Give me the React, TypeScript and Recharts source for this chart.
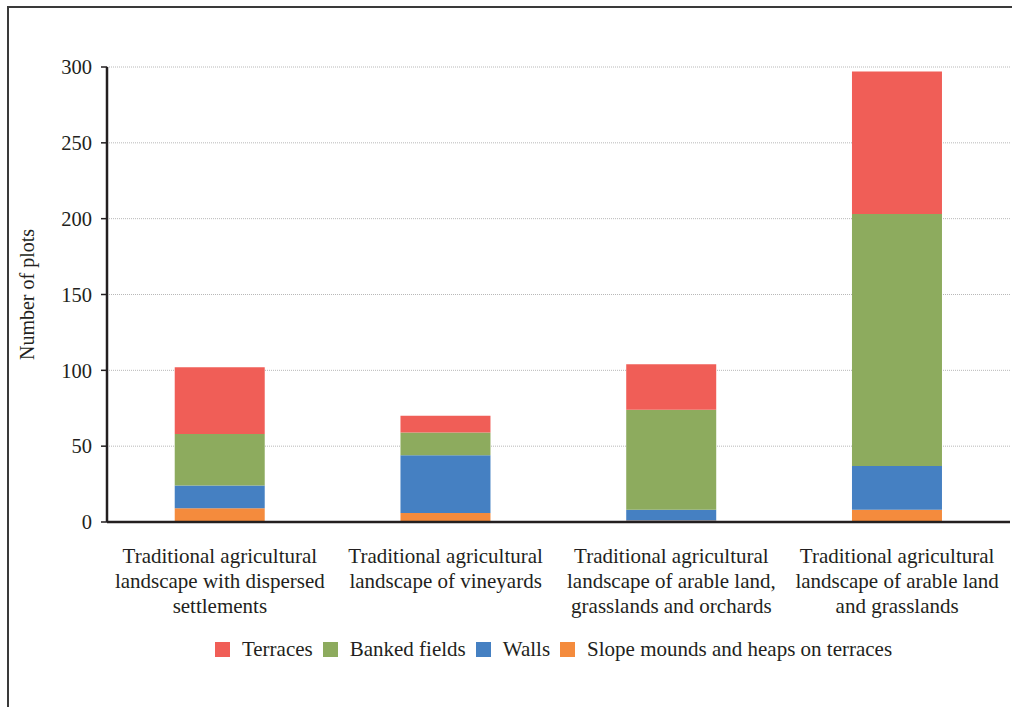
import { BarChart, Bar, XAxis, YAxis, CartesianGrid, Legend } from "recharts";

const categoryLines = [
  ["Traditional agricultural", "landscape with dispersed", "settlements"],
  ["Traditional agricultural", "landscape of vineyards"],
  ["Traditional agricultural", "landscape of arable land,", "grasslands and orchards"],
  ["Traditional agricultural", "landscape of arable land", "and grasslands"],
];
const slopeMounds = [9, 6, 1, 8];
const walls = [15, 38, 7, 29];
const bankedFields = [34, 15, 66, 166];
const terraces = [44, 11, 30, 94];
const yTicks = [0, 50, 100, 150, 200, 250, 300];

// stacking order bottom -> top
const series = [
  { key: "slope", name: "Slope mounds and heaps on terraces", color: "#F48B3D" },
  { key: "walls", name: "Walls", color: "#4580C2" },
  { key: "banked", name: "Banked fields", color: "#8DAB5E" },
  { key: "terraces", name: "Terraces", color: "#F05E57" },
];

const data = categoryLines.map((lines, i) => ({
  name: lines.join(" "),
  slope: slopeMounds[i],
  walls: walls[i],
  banked: bankedFields[i],
  terraces: terraces[i],
}));

const FONT = "'Liberation Serif', 'DejaVu Serif', serif";
const TEXT = "#231f20";

function CategoryTick({ x, y, index }: any) {
  const lines = categoryLines[index] || [];
  return (
    <text x={x} y={y} textAnchor="middle" fontFamily={FONT} fontSize={21} fill={TEXT}>
      {lines.map((l, i) => (
        <tspan key={i} x={x} dy={i === 0 ? 33 : 25}>
          {l}
        </tspan>
      ))}
    </text>
  );
}

function LegendContent() {
  const items = [...series].reverse();
  return (
    <div
      style={{
        display: "flex",
        justifyContent: "center",
        alignItems: "center",
        height: 30,
        fontFamily: FONT,
        fontSize: 21,
        color: TEXT,
      }}
    >
      {items.map((s) => (
        <div key={s.key} style={{ display: "flex", alignItems: "center", marginRight: 10 }}>
          <span style={{ width: 15, height: 15, background: s.color, marginRight: 12 }} />
          <span>{s.name}</span>
        </div>
      ))}
    </div>
  );
}

export default function App() {
  return (
    <div style={{ position: "absolute", left: 0, top: 0, width: 1012, height: 707, background: "#fff" }}>
      <div
        style={{
          position: "absolute",
          left: 7,
          top: 6,
          width: 1005,
          height: 701,
          boxSizing: "border-box",
          borderLeft: "2px solid #3a3a3a",
          borderTop: "2px solid #3a3a3a",
        }}
      />
      <div style={{ position: "absolute", left: 0, top: 0 }}>
        <BarChart
          width={1012}
          height={707}
          data={data}
          margin={{ top: 67, right: 2, left: 0, bottom: 55 }}
          barCategoryGap="30%"
        >
          <CartesianGrid
            horizontal
            vertical={false}
            stroke="#b8b8b8"
            strokeDasharray="1 1"
            horizontalValues={[50, 100, 150, 200, 250, 300]}
          />
          <XAxis
            dataKey="name"
            height={100}
            tickLine={false}
            axisLine={{ stroke: TEXT, strokeWidth: 2.5 }}
            tick={<CategoryTick />}
            interval={0}
          />
          <YAxis
            width={107}
            domain={[0, 300]}
            ticks={yTicks}
            tickSize={6}
            tickMargin={9}
            axisLine={{ stroke: TEXT, strokeWidth: 2.5 }}
            tickLine={{ stroke: TEXT, strokeWidth: 1.5 }}
            tick={{ fontFamily: FONT, fontSize: 20.5, fill: TEXT }}
            label={{
              value: "Number of plots",
              angle: -90,
              position: "insideLeft",
              offset: 0,
              dx: 27,
              style: { textAnchor: "middle", fontFamily: FONT, fontSize: 20, fill: TEXT },
            }}
          />
          <Legend
            verticalAlign="bottom"
            content={<LegendContent />}
            wrapperStyle={{ top: 634, left: 107, width: 903 }}
          />
          {series.map((s) => (
            <Bar
              key={s.key}
              dataKey={s.key}
              name={s.name}
              stackId="a"
              fill={s.color}
              isAnimationActive={false}
            />
          ))}
        </BarChart>
      </div>
    </div>
  );
}
